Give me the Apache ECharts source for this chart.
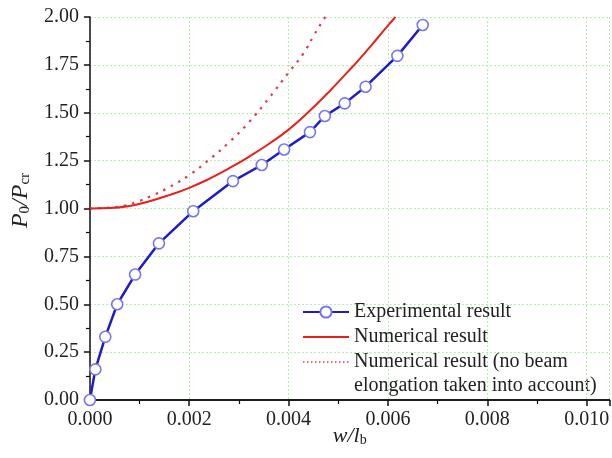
<!DOCTYPE html>
<html>
<head>
<meta charset="utf-8">
<script src="https://cdn.jsdelivr.net/npm/echarts@6/dist/echarts.min.js"></script>
<style>
html,body{margin:0;padding:0;background:#fff;}
#chart{width:612px;height:458px;}
</style>
</head>
<body>
<div id="chart"></div>
<script>
// ---- data ----
const experimentalX = [0, 0.00011, 0.00031, 0.00055, 0.00091, 0.00139, 0.00208, 0.00288, 0.00346, 0.00391, 0.00443, 0.00473, 0.00513, 0.00555, 0.00619, 0.0067];
const experimentalY = [0, 0.16, 0.33, 0.50, 0.655, 0.818, 0.986, 1.143, 1.227, 1.308, 1.399, 1.483, 1.549, 1.636, 1.797, 1.958];

const numericalX = [0, 0.0004, 0.0008, 0.0012, 0.0016, 0.002, 0.0024, 0.0028, 0.0032, 0.0036, 0.004, 0.0044, 0.0048, 0.0052, 0.0054, 0.0058, 0.006, 0.00615];
const numericalY = [1.0, 1.002, 1.013, 1.038, 1.07, 1.108, 1.155, 1.21, 1.27, 1.337, 1.412, 1.504, 1.606, 1.716, 1.772, 1.893, 1.955, 2.0];

const noElongX = [0, 0.0004, 0.0007, 0.001, 0.0013, 0.0016, 0.002, 0.0024, 0.0028, 0.0032, 0.0036, 0.004, 0.0043, 0.0045, 0.0047, 0.00474];
const noElongY = [1.0, 1.005, 1.015, 1.04, 1.073, 1.112, 1.174, 1.255, 1.345, 1.45, 1.575, 1.71, 1.81, 1.90, 1.985, 2.0];

const seriesNames = ['Experimental result', 'Numerical result', 'Numerical result (no beam elongation taken into account)'];
const legendLine1 = 'Numerical result (no beam';
const legendLine2 = 'elongation taken into account)';

const xTicks = { min: 0, max: 0.01046, interval: 0.002 };
const yTicks = { min: 0, max: 2, interval: 0.25 };

const zip = (xs, ys) => xs.map((x, i) => [x, ys[i]]);

const FONT = '"Liberation Serif", "Times New Roman", serif';
const gridLine = { show: true, lineStyle: { color: '#b4ecb4', type: [2, 2], width: 1 } };

const chart = echarts.init(document.getElementById('chart'), null, { renderer: 'canvas' });
chart.setOption({
  animation: false,
  backgroundColor: '#fff',
  grid: { left: 87, right: 1, top: 17, bottom: 58, containLabel: false },
  xAxis: [{
    type: 'value',
    min: xTicks.min, max: xTicks.max, interval: xTicks.interval,
    axisLine: { show: true, onZero: false, lineStyle: { color: '#111', width: 1.5 } },
    axisTick: { show: true, inside: false, length: 6, lineStyle: { color: '#111', width: 1.5 } },
    minorTick: { show: true, splitNumber: 2, length: 4, lineStyle: { color: '#111', width: 1.2 } },
    splitLine: gridLine,
    axisLabel: {
      margin: 10, color: '#222', fontFamily: FONT, fontSize: 20,
      showMaxLabel: false,
      formatter: v => { const r = Math.round(v / 0.002); return Math.abs(v - r * 0.002) > 1e-9 ? '' : v.toFixed(3); }
    },
    name: '{i|w/l}{s|b}',
    nameLocation: 'middle', nameGap: 25, nameMoveOverlap: false,
    nameTextStyle: {
      rich: {
        i: { fontFamily: FONT, fontStyle: 'italic', fontSize: 22, color: '#222', verticalAlign: 'top', lineHeight: 22 },
        s: { fontFamily: FONT, fontSize: 14, color: '#222', verticalAlign: 'bottom', lineHeight: 14, padding: [12, 0, 0, 0] }
      }
    }
  }, {
    type: 'value', position: 'top',
    min: xTicks.min, max: xTicks.max,
    axisLine: { show: true, lineStyle: { color: '#111', width: 1.5 } },
    axisTick: { show: false }, axisLabel: { show: false }, splitLine: { show: false }
  }],
  yAxis: {
    type: 'value',
    min: yTicks.min, max: yTicks.max, interval: yTicks.interval,
    axisLine: { show: true, onZero: false, lineStyle: { color: '#111', width: 1.5 } },
    axisTick: { show: true, inside: false, length: 6, lineStyle: { color: '#111', width: 1.5 } },
    minorTick: { show: true, splitNumber: 2, length: 4, lineStyle: { color: '#111', width: 1.2 } },
    splitLine: gridLine,
    axisLabel: { margin: 11, color: '#222', fontFamily: FONT, fontSize: 20, formatter: v => v.toFixed(2) },
    name: '{i|P}{s|0}{i|/P}{s|cr}',
    nameLocation: 'middle', nameGap: 52, nameRotate: 90,
    nameTextStyle: {
      padding: [0, 0, 0, 16],
      rich: {
        i: { fontFamily: FONT, fontStyle: 'italic', fontSize: 24, color: '#222', verticalAlign: 'top', lineHeight: 24 },
        s: { fontFamily: FONT, fontSize: 15, color: '#222', verticalAlign: 'bottom', lineHeight: 15, padding: [10, 0, 0, 0] }
      }
    }
  },
  legend: {
    orient: 'vertical', left: 302, top: 302, padding: 0,
    itemWidth: 46, itemHeight: 14, itemGap: 5,
    textStyle: { fontFamily: FONT, fontSize: 20, color: '#222', lineHeight: 20 },
    formatter: n => n === seriesNames[2] ? legendLine1 : n,
    data: [
      { name: seriesNames[0] },
      { name: seriesNames[1], itemStyle: { opacity: 0 } },
      { name: seriesNames[2], itemStyle: { opacity: 0 }, lineStyle: { type: [1.5, 2.5], width: 1.5 } }
    ]
  },
  graphic: [{
    type: 'text', left: 354, top: 376,
    style: { text: legendLine2, font: '20px ' + FONT, fill: '#222' }
  }],
  series: [{
    name: seriesNames[2], type: 'line', data: zip(noElongX, noElongY),
    showSymbol: false, symbol: 'none', smooth: true, z: 2,
    lineStyle: { color: '#e23a4a', width: 2.2, type: [2.5, 6] }, itemStyle: { color: '#e23a4a' }
  }, {
    name: seriesNames[1], type: 'line', data: zip(numericalX, numericalY),
    showSymbol: false, symbol: 'none', smooth: true, z: 3,
    lineStyle: { color: '#e8201c', width: 2 }, itemStyle: { color: '#e8201c' }
  }, {
    name: seriesNames[0], type: 'line', data: zip(experimentalX, experimentalY),
    symbol: 'circle', symbolSize: 11, z: 4,
    lineStyle: { color: '#1c1cc8', width: 2.5 },
    itemStyle: { color: '#fff', borderColor: '#7676ee', borderWidth: 1.6 }
  }]
});
</script>
</body>
</html>
